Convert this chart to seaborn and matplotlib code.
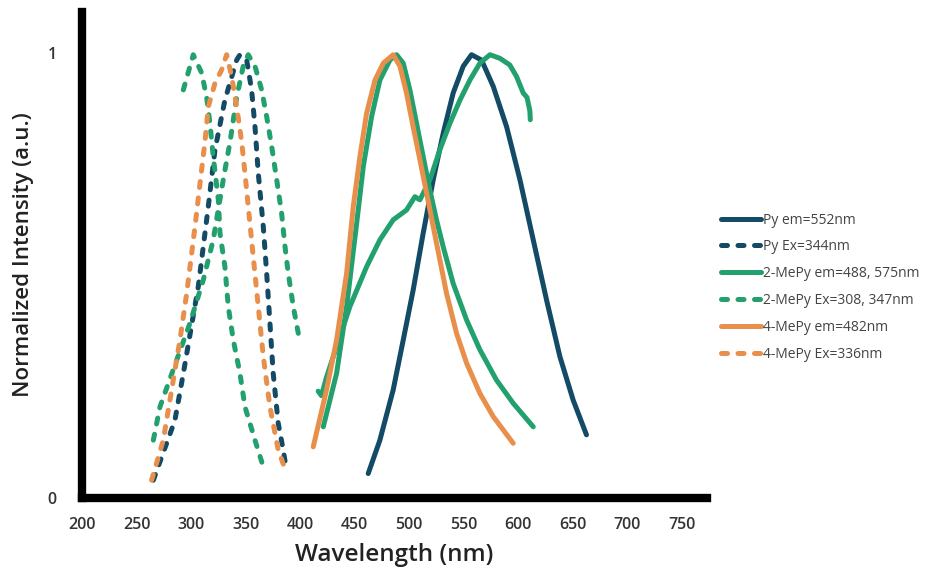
import matplotlib
matplotlib.use("Agg")
import matplotlib.pyplot as plt
import seaborn as sns
import pandas as pd

# ---------------- data ----------------
py_em_wl = [462.4, 473.1, 485.3, 494.5, 503.6, 512.8, 522.0, 531.2, 540.3, 549.5,
            557.1, 566.3, 577.0, 589.3, 601.5, 613.7, 625.9, 638.1, 650.3, 662.5]
py_em_y = [0.055, 0.13, 0.243, 0.355, 0.467, 0.595, 0.715, 0.82, 0.91, 0.97,
           0.996, 0.984, 0.925, 0.834, 0.715, 0.58, 0.445, 0.318, 0.22, 0.142]

py_ex_wl = [265.4, 277.6, 285.2, 292.9, 306.6, 315.8, 321.9, 331.0, 341.8, 344.8,
            351.0, 355.5, 358.6, 361.6, 366.2, 369.3, 372.3, 375.3, 379.9, 384.5, 387.0]
py_ex_y = [0.04, 0.123, 0.175, 0.28, 0.475, 0.655, 0.782, 0.894, 0.984, 0.996,
           0.984, 0.917, 0.834, 0.73, 0.61, 0.505, 0.393, 0.28, 0.168, 0.108, 0.07]

mepy2_em_a_wl = [421.2, 433.4, 442.6, 451.8, 457.9, 465.5, 473.1, 482.3, 488.4, 494.5,
                 500.6, 506.7, 512.8, 518.9, 525.0, 531.1, 540.3, 552.6, 564.8, 580.0,
                 595.3, 613.7]
mepy2_em_a_y = [0.16, 0.28, 0.43, 0.617, 0.745, 0.857, 0.939, 0.984, 0.996, 0.977,
                0.917, 0.842, 0.767, 0.692, 0.625, 0.565, 0.482, 0.40, 0.333, 0.265,
                0.213, 0.16]

mepy2_em_b_wl = [416.5, 419.5, 424.0, 430.4, 445.6, 461.0, 473.1, 485.3, 497.5, 505.2,
                 509.8, 519.0, 528.0, 537.3, 546.5, 555.6, 564.8, 574.0, 583.1, 592.2,
                 598.4, 604.5, 608.0, 610.6, 611.0]
mepy2_em_b_y = [0.24, 0.23, 0.27, 0.318, 0.43, 0.52, 0.58, 0.625, 0.647, 0.677,
                0.67, 0.715, 0.782, 0.842, 0.894, 0.939, 0.977, 0.996, 0.988, 0.973,
                0.947, 0.91, 0.90, 0.87, 0.85]

mepy2_ex_a_wl = [292.9, 302.0, 309.7, 314.3, 317.3, 320.3, 325.0, 326.5, 331.0, 334.1,
                 338.7, 344.8, 349.4, 358.6, 366.2]
mepy2_ex_a_y = [0.917, 0.996, 0.955, 0.90, 0.842, 0.767, 0.67, 0.595, 0.52, 0.43,
                0.355, 0.28, 0.205, 0.13, 0.07]

mepy2_ex_b_wl = [265.4, 271.5, 286.8, 299.0, 311.2, 320.3, 329.5, 335.7, 341.8, 347.8,
                 352.4, 358.6, 364.7, 369.3, 373.9, 378.5, 383.0, 386.1, 389.1, 393.7, 398.3]
mepy2_ex_b_y = [0.13, 0.205, 0.31, 0.393, 0.49, 0.58, 0.715, 0.80, 0.90, 0.97,
                0.996, 0.97, 0.917, 0.857, 0.79, 0.715, 0.64, 0.565, 0.505, 0.43, 0.37]

mepy4_em_wl = [412.0, 424.2, 433.4, 442.6, 448.7, 454.8, 460.9, 468.6, 476.2, 485.3,
               491.5, 497.5, 503.6, 509.8, 515.9, 522.0, 528.1, 534.2, 543.4, 552.6,
               564.8, 577.0, 595.3]
mepy4_em_y = [0.115, 0.243, 0.355, 0.505, 0.655, 0.767, 0.864, 0.939, 0.977, 0.996,
              0.97, 0.91, 0.834, 0.76, 0.685, 0.61, 0.535, 0.46, 0.37, 0.303,
              0.235, 0.183, 0.123]

mepy4_ex_wl = [263.8, 274.5, 289.8, 296.0, 303.6, 308.2, 312.7, 315.8, 321.9, 328.0,
               332.6, 337.2, 341.8, 346.4, 349.4, 352.4, 357.0, 361.6, 366.2, 372.3,
               379.9, 387.6]
mepy4_ex_y = [0.04, 0.13, 0.355, 0.46, 0.61, 0.707, 0.80, 0.879, 0.932, 0.962,
              0.996, 0.947, 0.879, 0.80, 0.73, 0.655, 0.542, 0.43, 0.318, 0.205,
              0.108, 0.055]

x_ticks = [200, 250, 300, 350, 400, 450, 500, 550, 600, 650, 700, 750]
y_ticks = [0, 1]
labels = ["Py em=552nm", "Py Ex=344nm", "2-MePy em=488, 575nm",
          "2-MePy Ex=308, 347nm", "4-MePy em=482nm", "4-MePy Ex=336nm"]

# ---------------- styling ----------------
NAVY = "#134a66"
GREEN = "#22a06e"
ORANGE = "#e98f4c"
LW = 3.6
DASH = (0, (1.2, 2.1))

curves = [
    (py_em_wl, py_em_y, NAVY, "-", labels[0]),
    (py_ex_wl, py_ex_y, NAVY, DASH, labels[1]),
    (mepy2_em_a_wl, mepy2_em_a_y, GREEN, "-", labels[2]),
    (mepy2_em_b_wl, mepy2_em_b_y, GREEN, "-", None),
    (mepy2_ex_a_wl, mepy2_ex_a_y, GREEN, DASH, labels[3]),
    (mepy2_ex_b_wl, mepy2_ex_b_y, GREEN, DASH, None),
    (mepy4_em_wl, mepy4_em_y, ORANGE, "-", labels[4]),
    (mepy4_ex_wl, mepy4_ex_y, ORANGE, DASH, labels[5]),
]

sns.set_theme(style="white")
plt.rcParams["font.family"] = ["Open Sans", "DejaVu Sans"]

fig = plt.figure(figsize=(9.3, 5.71), dpi=100)
ax = fig.add_axes([82 / 930, 1 - 498 / 571, 625 / 930, 486 / 571])

for wl, yv, col, ls, lab in curves:
    df = pd.DataFrame({"Wavelength": wl, "Intensity": yv})
    sns.lineplot(data=df, x="Wavelength", y="Intensity", ax=ax, color=col,
                 linewidth=LW, linestyle=ls, sort=False, estimator=None,
                 label=lab if lab else "_nolegend_", legend=False)

for ln in ax.get_lines():
    ln.set_solid_capstyle("round")
    ln.set_dash_capstyle("round")
    ln.set_solid_joinstyle("round")

ax.set_xlim(200, 773)
ax.set_ylim(0, 1.092)
ax.set_xticks(x_ticks)
ax.set_yticks(y_ticks)
ax.set_yticklabels(["0", "1"])
ax.tick_params(axis="both", length=0, labelsize=11.5, colors="#333333")
ax.tick_params(axis="x", pad=14)
ax.tick_params(axis="y", pad=18)
for t in ax.get_xticklabels() + ax.get_yticklabels():
    t.set_fontweight("semibold")

for s in ["top", "right"]:
    ax.spines[s].set_visible(False)
for s in ["left", "bottom"]:
    ax.spines[s].set_color("black")
    ax.spines[s].set_linewidth(6)
    ax.spines[s].set_capstyle("projecting")

ax.set_xlabel("Wavelength (nm)", fontsize=17.5, fontweight="semibold", color="#222222")
ax.set_ylabel("Normalized Intensity (a.u.)", fontsize=16, fontweight="semibold", color="#222222")
ax.xaxis.set_label_coords(0.5, -0.092)
ax.yaxis.set_label_coords(-0.077, 0.5)

handles, labs = ax.get_legend_handles_labels()
leg = fig.legend(handles, labs, loc="upper left",
                 bbox_to_anchor=(708 / 930, 1 - 200 / 571),
                 frameon=False, fontsize=10, handlelength=2.9,
                 handletextpad=0.15, labelspacing=0.85, labelcolor="#444444")

fig.savefig("out.png", dpi=100, facecolor="white")
